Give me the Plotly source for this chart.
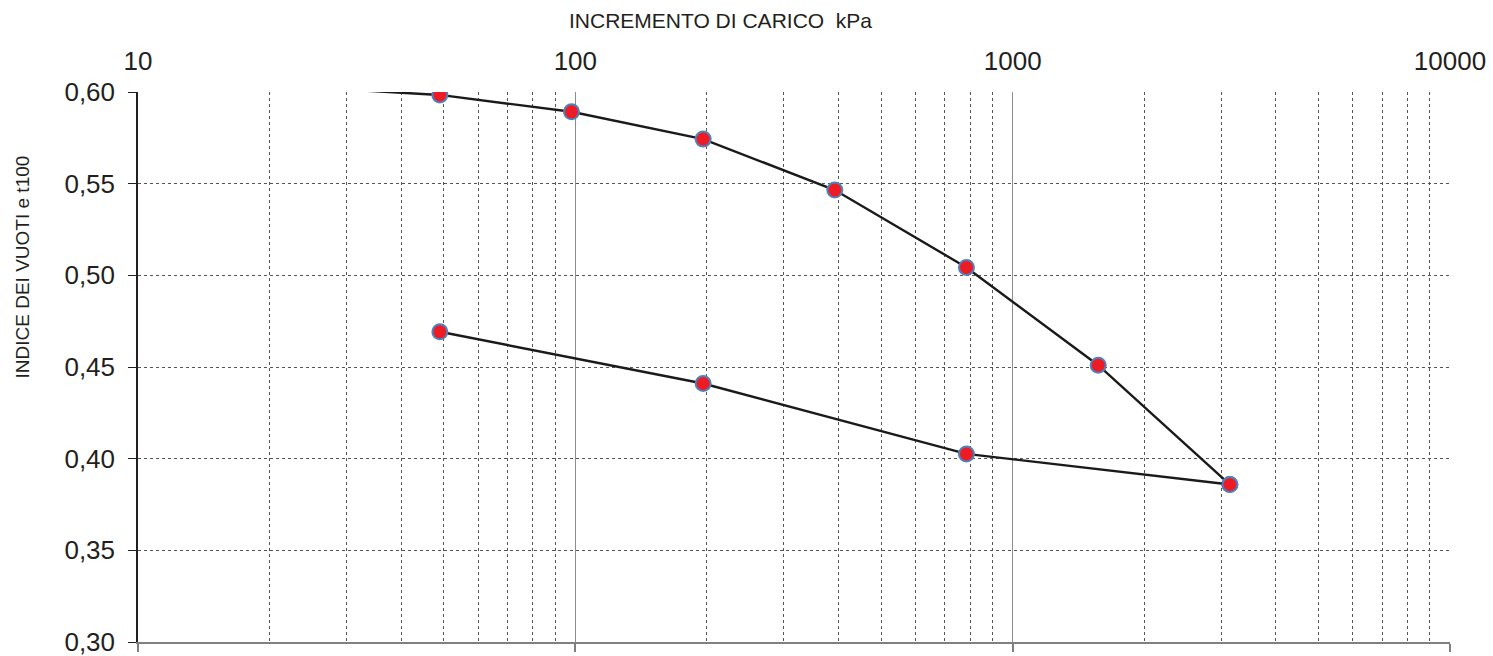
import plotly.graph_objects as go

# Oedometer test: void ratio at end of primary consolidation vs applied load
LOAD_LOADING = [24.5, 49, 98, 196, 392, 784, 1569, 3138]          # kPa
E_LOADING = [0.6025, 0.5984, 0.5892, 0.5743, 0.5465, 0.5043, 0.4510, 0.3859]

LOAD_UNLOADING = [3138, 784, 196, 49]                               # kPa
E_UNLOADING = [0.3859, 0.4026, 0.4410, 0.4692]

X_TICKS = [10, 100, 1000, 10000]
X_TICK_TEXT = ["10", "100", "1000", "10000"]
Y_TICKS = [0.30, 0.35, 0.40, 0.45, 0.50, 0.55, 0.60]
Y_MIN, Y_MAX = 0.30, 0.60

FONT = "Liberation Sans, Arial, Helvetica, sans-serif"
TEXT = "#231f20"
MARK_FILL = "#ed1c24"
MARK_EDGE = "#4f81bd"


def marker_sizes(values, size=15):
    # points outside the visible void-ratio range only contribute to the line
    return [size if Y_MIN <= v <= Y_MAX else 0 for v in values]


fig = go.Figure()

for loads, ratios in ((LOAD_LOADING, E_LOADING), (LOAD_UNLOADING, E_UNLOADING)):
    fig.add_trace(go.Scatter(
        x=loads, y=ratios, mode="lines+markers",
        line=dict(color="#1a1a1a", width=2.4),
        marker=dict(size=marker_sizes(ratios), color=MARK_FILL, opacity=1,
                    line=dict(color=MARK_EDGE, width=2)),
        showlegend=False, hoverinfo="x+y",
    ))

# carrier for the top axis with the decade labels
fig.add_trace(go.Scatter(
    x=X_TICKS, y=[None] * len(X_TICKS), xaxis="x2", mode="markers",
    showlegend=False, hoverinfo="skip",
))

fig.update_layout(
    width=1493, height=656,
    margin=dict(l=138, r=43, t=92, b=14),
    paper_bgcolor="white", plot_bgcolor="white",
    separators=",.",
    font=dict(family=FONT, color=TEXT, size=26),
    xaxis=dict(
        type="log", range=[1, 4], side="bottom", automargin=False,
        tickvals=X_TICKS, showticklabels=False,
        ticks="outside", ticklen=8, tickcolor="#7f7f7f", tickwidth=1.5,
        showline=True, linecolor="#808080", linewidth=2,
        showgrid=True, gridcolor="#8c8c8c", gridwidth=1.3,
        minor=dict(dtick="D1", showgrid=True, gridcolor="#555555",
                   griddash="dot", gridwidth=1, ticks=""),
        zeroline=False,
    ),
    xaxis2=dict(
        type="log", range=[1, 4], overlaying="x", side="top", automargin=False,
        tickvals=X_TICKS, ticktext=X_TICK_TEXT, ticks="",
        showgrid=False, showline=False, zeroline=False,
        ticklabelstandoff=16, ticklabeloverflow="allow",
        tickfont=dict(family=FONT, size=26, color=TEXT),
    ),
    yaxis=dict(
        range=[Y_MIN, Y_MAX], tickvals=Y_TICKS, tickformat=".2f", automargin=False,
        ticks="outside", ticklen=8, tickcolor="#231f20", tickwidth=1.3,
        showline=True, linecolor="#231f20", linewidth=1.5,
        showgrid=True, gridcolor="#555555", griddash="dot", gridwidth=1,
        zeroline=False, ticklabelstandoff=8, ticklabeloverflow="allow",
        tickfont=dict(family=FONT, size=26, color=TEXT),
    ),
    annotations=[
        dict(text="INCREMENTO DI CARICO  kPa", xref="paper", yref="paper",
             x=0.4436, y=1.13, xanchor="center", yanchor="middle",
             showarrow=False, font=dict(family=FONT, size=21, color=TEXT)),
        dict(text="INDICE DEI VUOTI e t100", xref="paper", yref="paper",
             x=-0.088, y=0.682, xanchor="center", yanchor="middle",
             textangle=-90, showarrow=False,
             font=dict(family=FONT, size=19, color=TEXT)),
    ],
)

fig.write_html("out.html")
